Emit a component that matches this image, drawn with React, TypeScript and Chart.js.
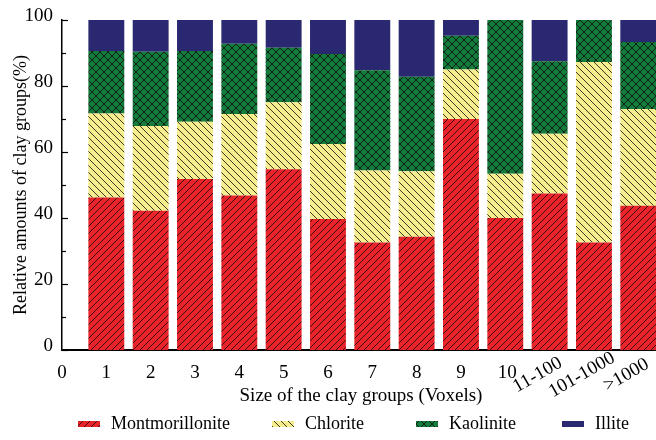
import { useEffect, useRef } from "react";
import { Chart, registerables } from "chart.js";

Chart.register(...registerables);

// Clay group size classes (position 0 carries no bar, only its tick label)
const sizeLabels = ["0", "1", "2", "3", "4", "5", "6", "7", "8", "9", "10", "11-100", "101-1000", ">1000"];

// Relative amounts (%) for size classes 1 .. >1000
const montmorillonite = [46.2, 42.2, 51.8, 46.8, 54.8, 39.7, 32.6, 34.3, 70.0, 40.0, 47.4, 32.6, 43.7];
const chlorite = [25.5, 25.7, 17.4, 24.7, 20.3, 22.7, 21.8, 19.9, 15.0, 13.4, 18.1, 54.7, 29.3];
const kaolinite = [18.9, 22.5, 21.4, 21.3, 16.5, 27.3, 30.4, 28.6, 10.2, 46.6, 22.0, 12.7, 20.3];
const illite = [9.4, 9.6, 9.4, 7.2, 8.4, 10.3, 15.2, 17.2, 4.8, 0, 12.5, 0, 6.7];

const yTickStep = 20;
const yMinorStep = 10;

const SERIF = '"Liberation Serif", "Times New Roman", serif';

type Hatch = "slash" | "backslash" | "cross" | "none";

function makePattern(base: string, hatch: Hatch, size: number): CanvasPattern | string {
  if (hatch === "none") return base;
  const c = document.createElement("canvas");
  c.width = size;
  c.height = size;
  const g = c.getContext("2d")!;
  g.fillStyle = base;
  g.fillRect(0, 0, size, size);
  g.strokeStyle = "rgba(20,10,10,0.8)";
  g.lineWidth = 1;
  const slash = () => {
    g.beginPath();
    g.moveTo(-1, size + 1);
    g.lineTo(size + 1, -1);
    g.moveTo(-1, 1);
    g.lineTo(1, -1);
    g.moveTo(size - 1, size + 1);
    g.lineTo(size + 1, size - 1);
    g.stroke();
  };
  const backslash = () => {
    g.beginPath();
    g.moveTo(-1, -1);
    g.lineTo(size + 1, size + 1);
    g.moveTo(size - 1, -1);
    g.lineTo(size + 1, 1);
    g.moveTo(-1, size - 1);
    g.lineTo(1, size + 1);
    g.stroke();
  };
  if (hatch === "slash" || hatch === "cross") slash();
  if (hatch === "backslash" || hatch === "cross") backslash();
  return g.createPattern(c, "repeat")!;
}

const series = [
  { label: "Montmorillonite", values: montmorillonite, color: "#e8242a", hatch: "slash" as Hatch, tile: 7 },
  { label: "Chlorite", values: chlorite, color: "#f6ee8e", hatch: "backslash" as Hatch, tile: 7 },
  { label: "Kaolinite", values: kaolinite, color: "#137b3c", hatch: "cross" as Hatch, tile: 8 },
  { label: "Illite", values: illite, color: "#2a2870", hatch: "none" as Hatch, tile: 8 },
];

// Legend swatch left edges along the bottom row
const legendX = [78, 272, 416, 562];

const decorations = {
  id: "clayDecorations",
  afterDraw(chart: any) {
    const { ctx, chartArea, scales } = chart;
    const xs = scales.x;
    const ys = scales.y;
    ctx.save();

    // inward major / minor ticks on the y axis
    ctx.strokeStyle = "#000";
    ctx.lineWidth = 1.2;
    for (let v = 0; v <= 100; v += yMinorStep) {
      const y = Math.round(ys.getPixelForValue(v)) + 0.5;
      const len = v % yTickStep === 0 ? 6 : 4;
      ctx.beginPath();
      ctx.moveTo(chartArea.left, y);
      ctx.lineTo(chartArea.left + len, y);
      ctx.stroke();
    }

    // category labels under the x axis
    ctx.fillStyle = "#000";
    ctx.font = `19px ${SERIF}`;
    ctx.textAlign = "center";
    ctx.textBaseline = "middle";
    sizeLabels.forEach((lab, i) => {
      const x = xs.getPixelForValue(i);
      if (i <= 10) {
        ctx.fillText(lab, x + (i === 10 ? 2 : 0), chartArea.bottom + 23);
      } else {
        ctx.save();
        ctx.translate(x - 12, chartArea.bottom + 25);
        ctx.rotate(-Math.PI / 6);
        ctx.fillText(lab, 0, 0);
        ctx.restore();
      }
    });

    // axis titles
    ctx.font = `19px ${SERIF}`;
    ctx.fillText("Size of the clay groups (Voxels)", 361, chartArea.bottom + 46);
    ctx.save();
    ctx.font = `18px ${SERIF}`;
    ctx.translate(21, (chartArea.top + chartArea.bottom) / 2);
    ctx.rotate(-Math.PI / 2);
    ctx.fillText("Relative amounts of clay groups(%)", 0, 0);
    ctx.restore();

    // legend
    ctx.font = `18px ${SERIF}`;
    ctx.textAlign = "left";
    chart.data.datasets.forEach((ds: any, i: number) => {
      const x = legendX[i];
      const y = 424;
      ctx.fillStyle = ds.backgroundColor;
      ctx.fillRect(x, y - 3, 22, 6);
      ctx.fillStyle = "#000";
      ctx.fillText(ds.label, x + 33, y);
    });

    ctx.restore();
  },
};

export default function App() {
  const canvasRef = useRef<HTMLCanvasElement | null>(null);

  useEffect(() => {
    document.body.style.margin = "0";
    const canvas = canvasRef.current;
    if (!canvas) return;

    const chart = new Chart(canvas, {
      type: "bar",
      data: {
        datasets: series.map((s) => ({
          label: s.label,
          data: s.values.map((v, i) => ({ x: i + 1, y: v })),
          backgroundColor: makePattern(s.color, s.hatch, s.tile) as any,
          borderWidth: 0,
          barPercentage: 0.81,
          categoryPercentage: 1,
        })),
      },
      options: {
        responsive: false,
        animation: false,
        layout: { padding: { top: 20, left: 0, right: 0, bottom: 0 } },
        plugins: {
          legend: { display: false },
          tooltip: { enabled: false },
        },
        scales: {
          x: {
            type: "linear",
            stacked: true,
            offset: false,
            min: 0,
            max: 13.4,
            ticks: { display: false, stepSize: 1, includeBounds: false },
            grid: { display: false, offset: false },
            border: { display: true, color: "#000", width: 2 },
            afterFit: (s: any) => {
              s.height = 90;
            },
          },
          y: {
            stacked: true,
            min: 0,
            max: 100,
            ticks: {
              stepSize: yTickStep,
              padding: 1,
              labelOffset: -4,
              color: "#000",
              font: { family: SERIF, size: 19 },
            },
            grid: { display: false },
            border: { display: true, color: "#000", width: 1.5 },
            afterFit: (s: any) => {
              s.width = 62;
            },
          },
        },
      },
      plugins: [decorations],
    });

    return () => chart.destroy();
  }, []);

  return (
    <div style={{ width: 656, height: 440, background: "#fff" }}>
      <canvas ref={canvasRef} width={656} height={440} />
    </div>
  );
}
